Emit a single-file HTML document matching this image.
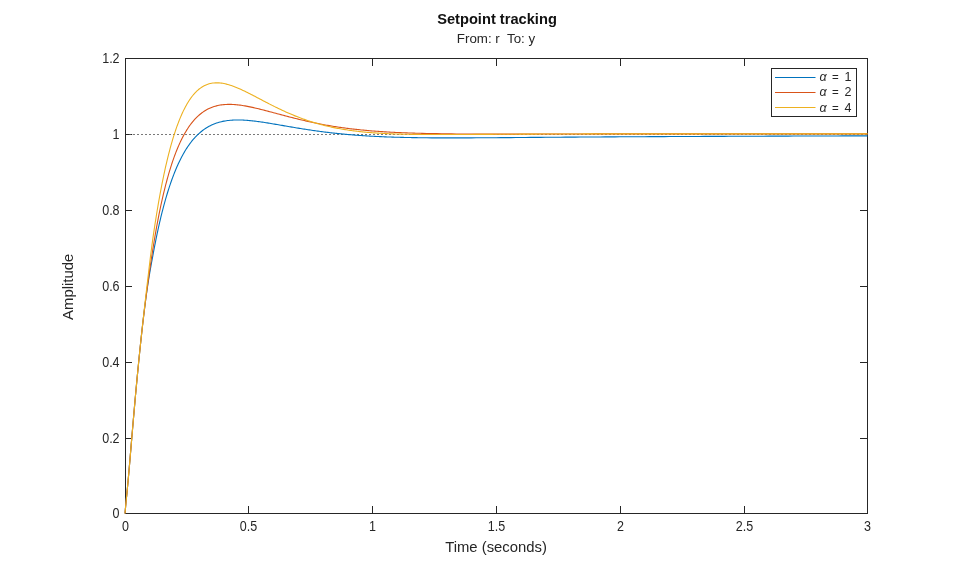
<!DOCTYPE html>
<html><head><meta charset="utf-8"><style>
html,body{margin:0;padding:0;background:#fff;width:959px;height:577px;overflow:hidden}
svg{display:block;font-family:"Liberation Sans",sans-serif;will-change:transform}
</style></head><body>
<svg width="959" height="577" viewBox="0 0 959 577">
<rect width="959" height="577" fill="#fff"/>
<text x="497" y="23.8" text-anchor="middle" font-size="14.67" font-weight="bold" fill="#111">Setpoint tracking</text>
<text x="496" y="42.6" text-anchor="middle" font-size="13.33" fill="#262626">From: r&#160; To: y</text>
<line x1="125" y1="134.5" x2="867" y2="134.5" stroke="#262626" stroke-opacity="0.62" stroke-width="1" stroke-dasharray="2,2"/>
<g stroke="#262626" stroke-width="1" fill="none">
<rect x="125.5" y="58.5" width="742" height="455"/>
<path d="M248.5,513 V506 M372.5,513 V506 M496.5,513 V506 M620.5,513 V506 M744.5,513 V506 M248.5,59 V66 M372.5,59 V66 M496.5,59 V66 M620.5,59 V66 M744.5,59 V66"/>
<path d="M126,134.5 H129.6 M130.6,134.5 H132.2 M126,438.5 H132 M126,362.5 H132 M126,286.5 H132 M126,210.5 H132 M867,438.5 H860 M867,362.5 H860 M867,286.5 H860 M867,210.5 H860"/>
</g>
<g fill="none" stroke-width="1.1">
<path d="M125.00,513.50 L125.62,506.39 L126.24,500.07 L126.86,493.86 L127.47,487.48 L128.09,480.84 L128.71,473.96 L129.33,466.89 L129.95,459.69 L130.56,452.41 L131.18,445.10 L131.80,437.79 L132.42,430.52 L133.04,423.30 L133.66,416.16 L134.28,409.11 L134.89,402.15 L135.51,395.30 L136.13,388.56 L136.75,381.92 L137.37,375.40 L137.99,369.00 L138.60,362.71 L139.22,356.54 L139.84,350.49 L140.46,344.53 L141.08,338.66 L141.69,332.90 L142.31,327.28 L142.93,321.80 L143.55,316.49 L144.17,311.35 L144.79,306.39 L145.41,301.60 L146.02,297.00 L146.64,292.58 L147.26,288.33 L147.88,284.24 L148.50,280.31 L149.12,276.53 L149.73,272.86 L150.35,269.31 L150.97,265.85 L151.59,262.46 L152.21,259.11 L152.82,255.79 L153.44,252.46 L154.06,249.16 L154.68,245.93 L155.30,242.77 L155.92,239.68 L156.53,236.65 L157.15,233.69 L157.77,230.80 L158.39,227.97 L159.01,225.20 L159.63,222.48 L160.25,219.83 L160.86,217.24 L161.48,214.70 L162.10,212.22 L162.72,209.80 L163.34,207.42 L163.95,205.10 L164.57,202.84 L165.19,200.62 L165.81,198.45 L166.43,196.33 L167.05,194.26 L167.66,192.23 L168.28,190.25 L168.90,188.31 L169.52,186.42 L170.14,184.57 L170.76,182.76 L171.38,181.00 L171.99,179.27 L172.61,177.58 L173.23,175.94 L173.85,174.33 L174.47,172.75 L175.09,171.22 L175.70,169.72 L176.32,168.25 L176.94,166.82 L177.56,165.43 L178.18,164.06 L178.79,162.73 L179.41,161.43 L180.03,160.16 L180.65,158.92 L181.27,157.72 L181.89,156.54 L182.50,155.39 L183.12,154.26 L183.74,153.17 L184.36,152.10 L184.98,151.06 L185.60,150.05 L186.22,149.06 L186.83,148.09 L187.45,147.15 L188.07,146.23 L188.69,145.34 L189.31,144.47 L189.93,143.62 L190.54,142.79 L191.16,141.99 L191.78,141.21 L192.40,140.44 L193.02,139.70 L193.63,138.98 L194.25,138.28 L194.87,137.59 L195.49,136.93 L196.11,136.28 L196.73,135.65 L197.34,135.04 L197.96,134.45 L198.58,133.87 L199.20,133.31 L200.44,132.24 L201.67,131.23 L202.91,130.27 L204.15,129.38 L205.38,128.54 L206.62,127.75 L207.86,127.02 L209.09,126.33 L210.33,125.69 L211.57,125.09 L212.80,124.53 L214.04,124.02 L215.28,123.54 L216.51,123.10 L217.75,122.70 L218.99,122.33 L220.22,121.99 L221.46,121.68 L222.70,121.41 L223.93,121.16 L225.17,120.94 L226.41,120.74 L227.64,120.57 L228.88,120.43 L230.12,120.30 L231.35,120.20 L232.59,120.11 L233.83,120.05 L235.06,120.01 L236.30,119.98 L237.54,119.97 L238.77,119.97 L240.01,119.99 L241.25,120.03 L242.48,120.07 L243.72,120.13 L244.96,120.20 L246.19,120.29 L247.43,120.38 L248.67,120.49 L249.90,120.60 L251.14,120.72 L252.38,120.85 L253.61,120.99 L254.85,121.14 L256.09,121.29 L257.32,121.45 L258.56,121.61 L259.80,121.79 L261.03,121.96 L262.27,122.14 L263.51,122.33 L264.74,122.52 L265.98,122.71 L267.22,122.91 L268.45,123.10 L269.69,123.31 L270.93,123.51 L272.16,123.72 L273.40,123.92 L274.64,124.13 L275.87,124.34 L277.11,124.56 L278.35,124.77 L279.58,124.98 L280.82,125.20 L282.06,125.41 L283.29,125.62 L284.53,125.84 L285.77,126.05 L287.00,126.27 L288.24,126.48 L289.48,126.69 L290.71,126.90 L291.95,127.11 L293.19,127.32 L294.42,127.53 L295.66,127.74 L296.90,127.94 L298.13,128.15 L299.37,128.35 L300.61,128.55 L301.84,128.75 L303.08,128.94 L304.32,129.14 L305.55,129.33 L306.79,129.52 L308.03,129.71 L309.26,129.90 L310.50,130.08 L311.74,130.27 L312.97,130.45 L314.21,130.62 L315.45,130.80 L316.68,130.97 L317.92,131.14 L319.16,131.31 L320.39,131.48 L321.63,131.64 L322.87,131.80 L324.10,131.96 L325.34,132.11 L326.58,132.27 L327.81,132.42 L329.05,132.57 L330.29,132.71 L331.52,132.86 L332.76,133.00 L334.00,133.13 L335.23,133.27 L336.47,133.40 L337.71,133.53 L338.94,133.66 L340.18,133.79 L341.42,133.91 L342.65,134.03 L343.89,134.15 L345.13,134.27 L346.36,134.38 L347.60,134.49 L348.84,134.60 L350.07,134.70 L351.31,134.81 L352.55,134.91 L353.78,135.01 L355.02,135.11 L356.26,135.20 L357.49,135.29 L358.73,135.39 L359.97,135.47 L361.20,135.56 L362.44,135.64 L363.68,135.73 L364.91,135.81 L366.15,135.88 L367.39,135.96 L368.62,136.03 L369.86,136.11 L371.10,136.18 L372.33,136.24 L373.57,136.31 L374.81,136.38 L376.04,136.44 L377.28,136.50 L378.52,136.56 L379.75,136.62 L380.99,136.67 L382.23,136.73 L383.46,136.78 L384.70,136.83 L385.94,136.88 L387.17,136.93 L388.41,136.97 L389.65,137.02 L390.88,137.06 L392.12,137.10 L393.36,137.14 L394.59,137.18 L395.83,137.22 L397.07,137.25 L398.30,137.29 L399.54,137.32 L400.78,137.36 L402.01,137.39 L403.25,137.42 L404.49,137.45 L405.72,137.47 L406.96,137.50 L408.20,137.53 L409.43,137.55 L410.67,137.57 L411.91,137.60 L413.14,137.62 L414.38,137.64 L415.62,137.66 L416.85,137.67 L418.09,137.69 L419.33,137.71 L420.56,137.72 L421.80,137.74 L426.75,137.79 L431.70,137.83 L436.65,137.86 L441.60,137.88 L446.56,137.89 L451.51,137.89 L456.46,137.88 L461.41,137.87 L466.36,137.86 L471.32,137.84 L476.27,137.81 L481.22,137.79 L486.17,137.76 L491.13,137.72 L496.08,137.69 L501.03,137.65 L505.98,137.62 L510.93,137.58 L515.89,137.54 L520.84,137.50 L525.79,137.46 L530.74,137.42 L535.70,137.38 L540.65,137.35 L545.60,137.31 L550.55,137.27 L555.50,137.23 L560.46,137.20 L565.41,137.16 L570.36,137.13 L575.31,137.09 L580.27,137.06 L585.22,137.02 L590.17,136.99 L595.12,136.96 L600.07,136.93 L605.03,136.90 L609.98,136.87 L614.93,136.84 L619.88,136.81 L624.84,136.78 L629.79,136.76 L634.74,136.73 L639.69,136.70 L644.64,136.68 L649.60,136.65 L654.55,136.63 L659.50,136.60 L664.45,136.58 L669.41,136.56 L674.36,136.53 L679.31,136.51 L684.26,136.49 L689.21,136.47 L694.17,136.45 L699.12,136.43 L704.07,136.41 L709.02,136.38 L713.98,136.36 L718.93,136.34 L723.88,136.33 L728.83,136.31 L733.78,136.29 L738.74,136.27 L743.69,136.25 L748.64,136.23 L753.59,136.21 L758.55,136.19 L763.50,136.18 L768.45,136.16 L773.40,136.14 L778.35,136.12 L783.31,136.11 L788.26,136.09 L793.21,136.07 L798.16,136.06 L803.12,136.04 L808.07,136.02 L813.02,136.01 L817.97,135.99 L822.92,135.98 L827.88,135.96 L832.83,135.94 L837.78,135.93 L842.73,135.91 L847.69,135.90 L852.64,135.88 L857.59,135.87 L862.54,135.85 L867.49,135.84" stroke="#0072BD"/>
<path d="M125.00,513.50 L125.62,506.39 L126.24,500.07 L126.86,493.86 L127.47,487.48 L128.09,480.84 L128.71,473.96 L129.33,466.89 L129.95,459.69 L130.56,452.41 L131.18,445.10 L131.80,437.79 L132.42,430.52 L133.04,423.30 L133.66,416.16 L134.28,409.11 L134.89,402.15 L135.51,395.30 L136.13,388.56 L136.75,381.92 L137.37,375.40 L137.99,369.00 L138.60,362.71 L139.22,356.54 L139.84,350.49 L140.46,344.57 L141.08,338.81 L141.69,333.18 L142.31,327.69 L142.93,322.32 L143.55,317.07 L144.17,311.93 L144.79,306.89 L145.41,301.95 L146.02,297.10 L146.64,292.35 L147.26,287.69 L147.88,283.11 L148.50,278.62 L149.12,274.21 L149.73,269.88 L150.35,265.63 L150.97,261.46 L151.59,257.37 L152.21,253.36 L152.82,249.42 L153.44,245.55 L154.06,241.77 L154.68,238.07 L155.30,234.45 L155.92,230.92 L156.53,227.47 L157.15,224.10 L157.77,220.81 L158.39,217.59 L159.01,214.45 L159.63,211.39 L160.25,208.39 L160.86,205.46 L161.48,202.61 L162.10,199.82 L162.72,197.09 L163.34,194.44 L163.95,191.84 L164.57,189.31 L165.19,186.83 L165.81,184.42 L166.43,182.06 L167.05,179.76 L167.66,177.52 L168.28,175.32 L168.90,173.19 L169.52,171.10 L170.14,169.07 L170.76,167.08 L171.38,165.15 L171.99,163.26 L172.61,161.42 L173.23,159.62 L173.85,157.87 L174.47,156.16 L175.09,154.50 L175.70,152.87 L176.32,151.29 L176.94,149.75 L177.56,148.25 L178.18,146.79 L178.79,145.36 L179.41,143.97 L180.03,142.62 L180.65,141.30 L181.27,140.02 L181.89,138.77 L182.50,137.55 L183.12,136.37 L183.74,135.22 L184.36,134.09 L184.98,133.00 L185.60,131.94 L186.22,130.91 L186.83,129.91 L187.45,128.93 L188.07,127.99 L188.69,127.06 L189.31,126.17 L189.93,125.30 L190.54,124.46 L191.16,123.64 L191.78,122.84 L192.40,122.07 L193.02,121.32 L193.63,120.59 L194.25,119.89 L194.87,119.21 L195.49,118.54 L196.11,117.90 L196.73,117.28 L197.34,116.68 L197.96,116.10 L198.58,115.54 L199.20,114.99 L200.44,113.96 L201.67,112.99 L202.91,112.09 L204.15,111.26 L205.38,110.49 L206.62,109.77 L207.86,109.11 L209.09,108.50 L210.33,107.95 L211.57,107.44 L212.80,106.98 L214.04,106.56 L215.28,106.19 L216.51,105.86 L217.75,105.56 L218.99,105.30 L220.22,105.08 L221.46,104.89 L222.70,104.74 L223.93,104.61 L225.17,104.51 L226.41,104.44 L227.64,104.40 L228.88,104.38 L230.12,104.39 L231.35,104.42 L232.59,104.47 L233.83,104.54 L235.06,104.62 L236.30,104.73 L237.54,104.86 L238.77,105.00 L240.01,105.15 L241.25,105.32 L242.48,105.51 L243.72,105.70 L244.96,105.91 L246.19,106.13 L247.43,106.37 L248.67,106.61 L249.90,106.86 L251.14,107.12 L252.38,107.38 L253.61,107.66 L254.85,107.94 L256.09,108.23 L257.32,108.52 L258.56,108.82 L259.80,109.12 L261.03,109.43 L262.27,109.74 L263.51,110.06 L264.74,110.37 L265.98,110.70 L267.22,111.02 L268.45,111.35 L269.69,111.67 L270.93,112.00 L272.16,112.33 L273.40,112.66 L274.64,112.99 L275.87,113.33 L277.11,113.66 L278.35,113.99 L279.58,114.32 L280.82,114.65 L282.06,114.98 L283.29,115.31 L284.53,115.63 L285.77,115.96 L287.00,116.28 L288.24,116.61 L289.48,116.93 L290.71,117.25 L291.95,117.56 L293.19,117.88 L294.42,118.19 L295.66,118.50 L296.90,118.80 L298.13,119.11 L299.37,119.41 L300.61,119.70 L301.84,120.00 L303.08,120.29 L304.32,120.58 L305.55,120.87 L306.79,121.15 L308.03,121.43 L309.26,121.70 L310.50,121.97 L311.74,122.24 L312.97,122.51 L314.21,122.77 L315.45,123.03 L316.68,123.28 L317.92,123.53 L319.16,123.78 L320.39,124.03 L321.63,124.27 L322.87,124.50 L324.10,124.73 L325.34,124.95 L326.58,125.17 L327.81,125.39 L329.05,125.60 L330.29,125.81 L331.52,126.02 L332.76,126.22 L334.00,126.42 L335.23,126.61 L336.47,126.80 L337.71,126.99 L338.94,127.17 L340.18,127.36 L341.42,127.53 L342.65,127.71 L343.89,127.88 L345.13,128.04 L346.36,128.21 L347.60,128.37 L348.84,128.53 L350.07,128.68 L351.31,128.83 L352.55,128.98 L353.78,129.12 L355.02,129.27 L356.26,129.40 L357.49,129.54 L358.73,129.67 L359.97,129.80 L361.20,129.93 L362.44,130.05 L363.68,130.17 L364.91,130.29 L366.15,130.41 L367.39,130.52 L368.62,130.63 L369.86,130.73 L371.10,130.84 L372.33,130.94 L373.57,131.04 L374.81,131.14 L376.04,131.23 L377.28,131.32 L378.52,131.41 L379.75,131.50 L380.99,131.59 L382.23,131.67 L383.46,131.75 L384.70,131.83 L385.94,131.90 L387.17,131.98 L388.41,132.05 L389.65,132.12 L390.88,132.19 L392.12,132.25 L393.36,132.32 L394.59,132.38 L395.83,132.44 L397.07,132.50 L398.30,132.55 L399.54,132.61 L400.78,132.66 L402.01,132.71 L403.25,132.76 L404.49,132.81 L405.72,132.86 L406.96,132.90 L408.20,132.95 L409.43,132.99 L410.67,133.03 L411.91,133.07 L413.14,133.11 L414.38,133.14 L415.62,133.18 L416.85,133.21 L418.09,133.25 L419.33,133.28 L420.56,133.31 L421.80,133.34 L426.75,133.46 L431.70,133.58 L436.65,133.67 L441.60,133.76 L446.56,133.83 L451.51,133.89 L456.46,133.94 L461.41,133.98 L466.36,134.01 L471.32,134.04 L476.27,134.06 L481.22,134.07 L486.17,134.08 L491.13,134.09 L496.08,134.09 L501.03,134.09 L505.98,134.09 L510.93,134.08 L515.89,134.08 L520.84,134.07 L525.79,134.06 L530.74,134.05 L535.70,134.04 L540.65,134.03 L545.60,134.02 L550.55,134.01 L555.50,134.00 L560.46,133.99 L565.41,133.98 L570.36,133.97 L575.31,133.96 L580.27,133.95 L585.22,133.94 L590.17,133.93 L595.12,133.92 L600.07,133.92 L605.03,133.91 L609.98,133.90 L614.93,133.90 L619.88,133.89 L624.84,133.88 L629.79,133.88 L634.74,133.87 L639.69,133.87 L644.64,133.87 L649.60,133.86 L654.55,133.86 L659.50,133.86 L664.45,133.85 L669.41,133.85 L674.36,133.85 L679.31,133.85 L684.26,133.84 L689.21,133.84 L694.17,133.84 L699.12,133.84 L704.07,133.84 L709.02,133.84 L713.98,133.84 L718.93,133.84 L723.88,133.84 L728.83,133.84 L733.78,133.83 L738.74,133.83 L743.69,133.83 L748.64,133.83 L753.59,133.83 L758.55,133.83 L763.50,133.83 L768.45,133.83 L773.40,133.83 L778.35,133.83 L783.31,133.83 L788.26,133.83 L793.21,133.83 L798.16,133.83 L803.12,133.83 L808.07,133.83 L813.02,133.83 L817.97,133.83 L822.92,133.83 L827.88,133.83 L832.83,133.83 L837.78,133.83 L842.73,133.83 L847.69,133.83 L852.64,133.83 L857.59,133.83 L862.54,133.83 L867.49,133.83" stroke="#D95319"/>
<path d="M125.00,513.50 L125.62,506.39 L126.24,500.07 L126.86,493.86 L127.47,487.48 L128.09,480.84 L128.71,473.96 L129.33,466.89 L129.95,459.69 L130.56,452.41 L131.18,445.10 L131.80,437.79 L132.42,430.52 L133.04,423.30 L133.66,416.16 L134.28,409.11 L134.89,402.15 L135.51,395.30 L136.13,388.56 L136.75,381.92 L137.37,375.40 L137.99,369.00 L138.60,362.71 L139.22,356.54 L139.84,350.49 L140.46,344.55 L141.08,338.71 L141.69,332.96 L142.31,327.28 L142.93,321.66 L143.55,316.10 L144.17,310.57 L144.79,305.09 L145.41,299.65 L146.02,294.23 L146.64,288.86 L147.26,283.52 L147.88,278.23 L148.50,272.99 L149.12,267.81 L149.73,262.71 L150.35,257.69 L150.97,252.77 L151.59,247.97 L152.21,243.32 L152.82,238.82 L153.44,234.50 L154.06,230.33 L154.68,226.24 L155.30,222.24 L155.92,218.32 L156.53,214.48 L157.15,210.73 L157.77,207.05 L158.39,203.45 L159.01,199.93 L159.63,196.49 L160.25,193.11 L160.86,189.82 L161.48,186.59 L162.10,183.44 L162.72,180.36 L163.34,177.34 L163.95,174.40 L164.57,171.52 L165.19,168.71 L165.81,165.96 L166.43,163.27 L167.05,160.65 L167.66,158.09 L168.28,155.59 L168.90,153.15 L169.52,150.77 L170.14,148.45 L170.76,146.18 L171.38,143.97 L171.99,141.81 L172.61,139.71 L173.23,137.66 L173.85,135.67 L174.47,133.72 L175.09,131.83 L175.70,129.98 L176.32,128.18 L176.94,126.43 L177.56,124.73 L178.18,123.08 L178.79,121.46 L179.41,119.90 L180.03,118.38 L180.65,116.90 L181.27,115.46 L181.89,114.06 L182.50,112.71 L183.12,111.39 L183.74,110.12 L184.36,108.88 L184.98,107.68 L185.60,106.52 L186.22,105.39 L186.83,104.30 L187.45,103.25 L188.07,102.23 L188.69,101.24 L189.31,100.29 L189.93,99.36 L190.54,98.47 L191.16,97.62 L191.78,96.79 L192.40,95.99 L193.02,95.22 L193.63,94.48 L194.25,93.77 L194.87,93.09 L195.49,92.43 L196.11,91.80 L196.73,91.20 L197.34,90.62 L197.96,90.07 L198.58,89.54 L199.20,89.04 L200.44,88.10 L201.67,87.25 L202.91,86.48 L204.15,85.80 L205.38,85.20 L206.62,84.68 L207.86,84.22 L209.09,83.84 L210.33,83.52 L211.57,83.27 L212.80,83.07 L214.04,82.93 L215.28,82.85 L216.51,82.81 L217.75,82.83 L218.99,82.89 L220.22,83.00 L221.46,83.15 L222.70,83.33 L223.93,83.56 L225.17,83.82 L226.41,84.11 L227.64,84.44 L228.88,84.79 L230.12,85.17 L231.35,85.58 L232.59,86.01 L233.83,86.47 L235.06,86.94 L236.30,87.44 L237.54,87.95 L238.77,88.48 L240.01,89.03 L241.25,89.58 L242.48,90.16 L243.72,90.74 L244.96,91.34 L246.19,91.94 L247.43,92.55 L248.67,93.17 L249.90,93.80 L251.14,94.43 L252.38,95.07 L253.61,95.71 L254.85,96.36 L256.09,97.01 L257.32,97.66 L258.56,98.31 L259.80,98.96 L261.03,99.61 L262.27,100.26 L263.51,100.91 L264.74,101.56 L265.98,102.20 L267.22,102.84 L268.45,103.48 L269.69,104.12 L270.93,104.75 L272.16,105.38 L273.40,106.00 L274.64,106.62 L275.87,107.23 L277.11,107.83 L278.35,108.44 L279.58,109.03 L280.82,109.62 L282.06,110.20 L283.29,110.77 L284.53,111.34 L285.77,111.90 L287.00,112.46 L288.24,113.00 L289.48,113.54 L290.71,114.07 L291.95,114.59 L293.19,115.11 L294.42,115.62 L295.66,116.12 L296.90,116.61 L298.13,117.09 L299.37,117.57 L300.61,118.03 L301.84,118.49 L303.08,118.94 L304.32,119.39 L305.55,119.82 L306.79,120.25 L308.03,120.67 L309.26,121.08 L310.50,121.48 L311.74,121.87 L312.97,122.26 L314.21,122.64 L315.45,123.01 L316.68,123.37 L317.92,123.72 L319.16,124.07 L320.39,124.41 L321.63,124.74 L322.87,125.07 L324.10,125.38 L325.34,125.68 L326.58,125.98 L327.81,126.27 L329.05,126.55 L330.29,126.83 L331.52,127.09 L332.76,127.36 L334.00,127.61 L335.23,127.86 L336.47,128.10 L337.71,128.34 L338.94,128.57 L340.18,128.79 L341.42,129.01 L342.65,129.22 L343.89,129.42 L345.13,129.62 L346.36,129.81 L347.60,130.00 L348.84,130.18 L350.07,130.36 L351.31,130.53 L352.55,130.70 L353.78,130.86 L355.02,131.02 L356.26,131.17 L357.49,131.32 L358.73,131.46 L359.97,131.59 L361.20,131.73 L362.44,131.86 L363.68,131.98 L364.91,132.10 L366.15,132.22 L367.39,132.33 L368.62,132.44 L369.86,132.54 L371.10,132.64 L372.33,132.74 L373.57,132.83 L374.81,132.92 L376.04,133.00 L377.28,133.09 L378.52,133.17 L379.75,133.24 L380.99,133.32 L382.23,133.39 L383.46,133.45 L384.70,133.52 L385.94,133.58 L387.17,133.64 L388.41,133.69 L389.65,133.75 L390.88,133.80 L392.12,133.85 L393.36,133.89 L394.59,133.94 L395.83,133.98 L397.07,134.02 L398.30,134.06 L399.54,134.09 L400.78,134.12 L402.01,134.16 L403.25,134.19 L404.49,134.21 L405.72,134.24 L406.96,134.26 L408.20,134.29 L409.43,134.31 L410.67,134.33 L411.91,134.35 L413.14,134.36 L414.38,134.38 L415.62,134.39 L416.85,134.40 L418.09,134.42 L419.33,134.43 L420.56,134.44 L421.80,134.44 L426.75,134.49 L431.70,134.52 L436.65,134.54 L441.60,134.55 L446.56,134.55 L451.51,134.54 L456.46,134.52 L461.41,134.50 L466.36,134.48 L471.32,134.45 L476.27,134.42 L481.22,134.39 L486.17,134.36 L491.13,134.33 L496.08,134.30 L501.03,134.27 L505.98,134.24 L510.93,134.21 L515.89,134.18 L520.84,134.15 L525.79,134.12 L530.74,134.10 L535.70,134.08 L540.65,134.05 L545.60,134.03 L550.55,134.02 L555.50,134.00 L560.46,133.98 L565.41,133.97 L570.36,133.95 L575.31,133.94 L580.27,133.93 L585.22,133.92 L590.17,133.91 L595.12,133.90 L600.07,133.89 L605.03,133.88 L609.98,133.88 L614.93,133.87 L619.88,133.87 L624.84,133.86 L629.79,133.86 L634.74,133.85 L639.69,133.85 L644.64,133.85 L649.60,133.85 L654.55,133.84 L659.50,133.84 L664.45,133.84 L669.41,133.84 L674.36,133.84 L679.31,133.84 L684.26,133.84 L689.21,133.84 L694.17,133.83 L699.12,133.83 L704.07,133.83 L709.02,133.83 L713.98,133.83 L718.93,133.83 L723.88,133.83 L728.83,133.83 L733.78,133.83 L738.74,133.83 L743.69,133.83 L748.64,133.83 L753.59,133.83 L758.55,133.83 L763.50,133.83 L768.45,133.83 L773.40,133.83 L778.35,133.83 L783.31,133.83 L788.26,133.83 L793.21,133.83 L798.16,133.83 L803.12,133.83 L808.07,133.83 L813.02,133.83 L817.97,133.83 L822.92,133.83 L827.88,133.83 L832.83,133.83 L837.78,133.83 L842.73,133.83 L847.69,133.83 L852.64,133.83 L857.59,133.83 L862.54,133.83 L867.49,133.83" stroke="#EDB120"/>
</g>
<g font-size="14.6" fill="#262626">
<text transform="translate(119.6,518.4) scale(0.86,1)" text-anchor="end">0</text>
<text transform="translate(119.6,443.4) scale(0.86,1)" text-anchor="end">0.2</text>
<text transform="translate(119.6,367.4) scale(0.86,1)" text-anchor="end">0.4</text>
<text transform="translate(119.6,291.4) scale(0.86,1)" text-anchor="end">0.6</text>
<text transform="translate(119.6,215.4) scale(0.86,1)" text-anchor="end">0.8</text>
<text transform="translate(119.6,139.4) scale(0.86,1)" text-anchor="end">1</text>
<text transform="translate(119.6,63.4) scale(0.86,1)" text-anchor="end">1.2</text>
<text transform="translate(125.5,531.3) scale(0.86,1)" text-anchor="middle">0</text>
<text transform="translate(248.5,531.3) scale(0.86,1)" text-anchor="middle">0.5</text>
<text transform="translate(372.5,531.3) scale(0.86,1)" text-anchor="middle">1</text>
<text transform="translate(496.5,531.3) scale(0.86,1)" text-anchor="middle">1.5</text>
<text transform="translate(620.5,531.3) scale(0.86,1)" text-anchor="middle">2</text>
<text transform="translate(744.5,531.3) scale(0.86,1)" text-anchor="middle">2.5</text>
<text transform="translate(867.5,531.3) scale(0.86,1)" text-anchor="middle">3</text>
</g>
<text x="496" y="552" text-anchor="middle" font-size="14.85" fill="#262626">Time (seconds)</text>
<text transform="translate(72.8,286.8) rotate(-90)" text-anchor="middle" font-size="14.9" fill="#262626">Amplitude</text>
<rect x="771.5" y="68.5" width="85" height="48" fill="#fff" stroke="#262626" stroke-width="1"/>
<g stroke-width="1.1">
<line x1="775" y1="77.5" x2="815.5" y2="77.5" stroke="#0072BD"/>
<line x1="775" y1="92.5" x2="815.5" y2="92.5" stroke="#D95319"/>
<line x1="775" y1="107.5" x2="815.5" y2="107.5" stroke="#EDB120"/>
</g>
<g font-size="12.5" fill="#262626">
<text x="819.6" y="81" font-style="italic">α</text><text x="832" y="81" font-size="11.5">=</text><text x="844.5" y="81">1</text>
<text x="819.6" y="96.2" font-style="italic">α</text><text x="832" y="96.2" font-size="11.5">=</text><text x="844.5" y="96.2">2</text>
<text x="819.6" y="111.8" font-style="italic">α</text><text x="832" y="111.8" font-size="11.5">=</text><text x="844.5" y="111.8">4</text>
</g>
</svg>
</body></html>
